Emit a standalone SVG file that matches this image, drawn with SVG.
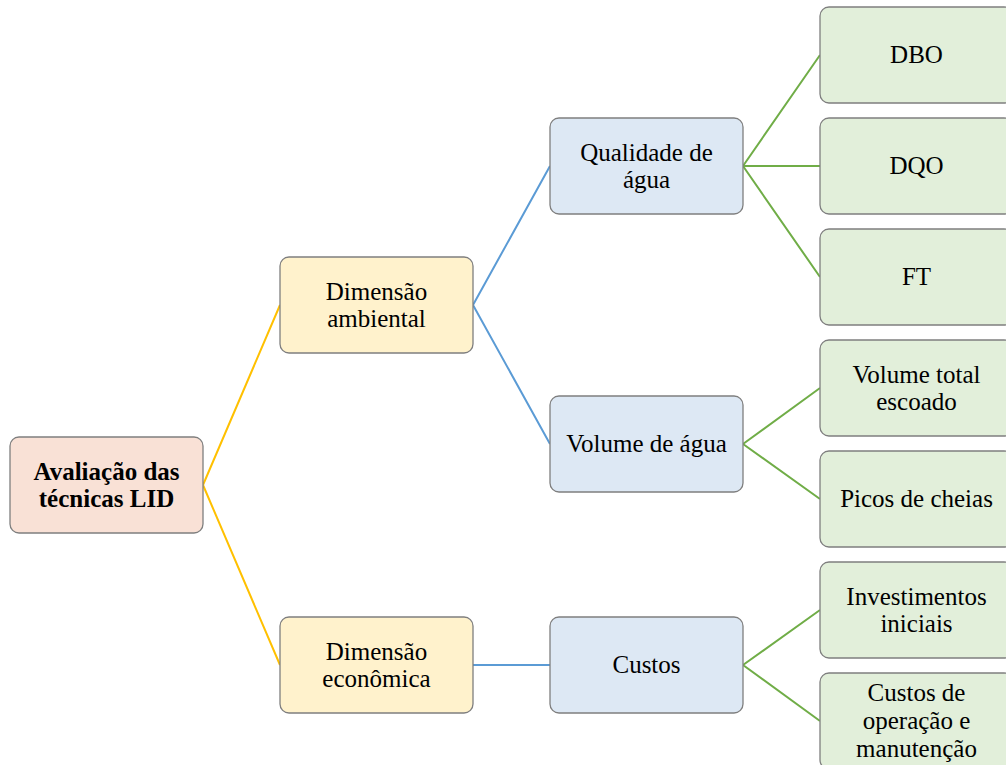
<svg xmlns="http://www.w3.org/2000/svg" width="1006" height="765" viewBox="0 0 1006 765">
<style>
.n{stroke:#7f7f7f;stroke-width:1.3}
.r{fill:#f9e1d6}.y{fill:#fff2cc}.b{fill:#dde8f4}.g{fill:#e2efda}
.t{font-family:'Liberation Serif','Times New Roman',serif;font-size:25px;fill:#000;text-anchor:middle}
.bold{font-weight:bold}
.cy{stroke:#ffc000;stroke-width:2;fill:none}
.cb{stroke:#5b9bd5;stroke-width:2;fill:none}
.cg{stroke:#70ad47;stroke-width:2;fill:none}
</style>
<rect width="1006" height="765" fill="#fff"/>
<g id="connectors">
<path class="cy" d="M203,485 L280,305 M203,485 L280,665"/>
<path class="cb" d="M473,305 L550,166 M473,305 L550,444 M473,665 L550,665"/>
<path class="cg" d="M743,166 L820,55 M743,166 L820,166 M743,166 L820,277 M743,444 L820,388 M743,444 L820,499 M743,665 L820,610 M743,665 L820,721"/>
</g>
<g id="root"><rect class="n r" x="10" y="437" width="193" height="96" rx="9"/><text class="t bold" x="106.5" y="480">Avaliação das</text><text class="t bold" x="106.5" y="507">técnicas LID</text></g>
<g id="amb"><rect class="n y" x="280" y="257" width="193" height="96" rx="9"/><text class="t" x="376.5" y="300">Dimensão</text><text class="t" x="376.5" y="327">ambiental</text></g>
<g id="eco"><rect class="n y" x="280" y="617" width="193" height="96" rx="9"/><text class="t" x="376.5" y="660">Dimensão</text><text class="t" x="376.5" y="687">econômica</text></g>
<g id="qual"><rect class="n b" x="550" y="118" width="193" height="96" rx="9"/><text class="t" x="646.5" y="161">Qualidade de</text><text class="t" x="646.5" y="188">água</text></g>
<g id="vol"><rect class="n b" x="550" y="396" width="193" height="96" rx="9"/><text class="t" x="646.5" y="452">Volume de água</text></g>
<g id="custos"><rect class="n b" x="550" y="617" width="193" height="96" rx="9"/><text class="t" x="646.5" y="673">Custos</text></g>
<g id="dbo"><rect class="n g" x="820" y="7" width="193" height="96" rx="9"/><text class="t" x="916.5" y="63">DBO</text></g>
<g id="dqo"><rect class="n g" x="820" y="118" width="193" height="96" rx="9"/><text class="t" x="916.5" y="174">DQO</text></g>
<g id="ft"><rect class="n g" x="820" y="229" width="193" height="96" rx="9"/><text class="t" x="916.5" y="285">FT</text></g>
<g id="voltotal"><rect class="n g" x="820" y="340" width="193" height="96" rx="9"/><text class="t" x="916.5" y="383">Volume total</text><text class="t" x="916.5" y="410">escoado</text></g>
<g id="picos"><rect class="n g" x="820" y="451" width="193" height="96" rx="9"/><text class="t" x="916.5" y="507">Picos de cheias</text></g>
<g id="invest"><rect class="n g" x="820" y="562" width="193" height="96" rx="9"/><text class="t" x="916.5" y="605">Investimentos</text><text class="t" x="916.5" y="632">iniciais</text></g>
<g id="custop"><rect class="n g" x="820" y="673" width="193" height="96" rx="9"/><text class="t" x="916.5" y="701">Custos de</text><text class="t" x="916.5" y="729">operação e</text><text class="t" x="916.5" y="757">manutenção</text></g>
</svg>
